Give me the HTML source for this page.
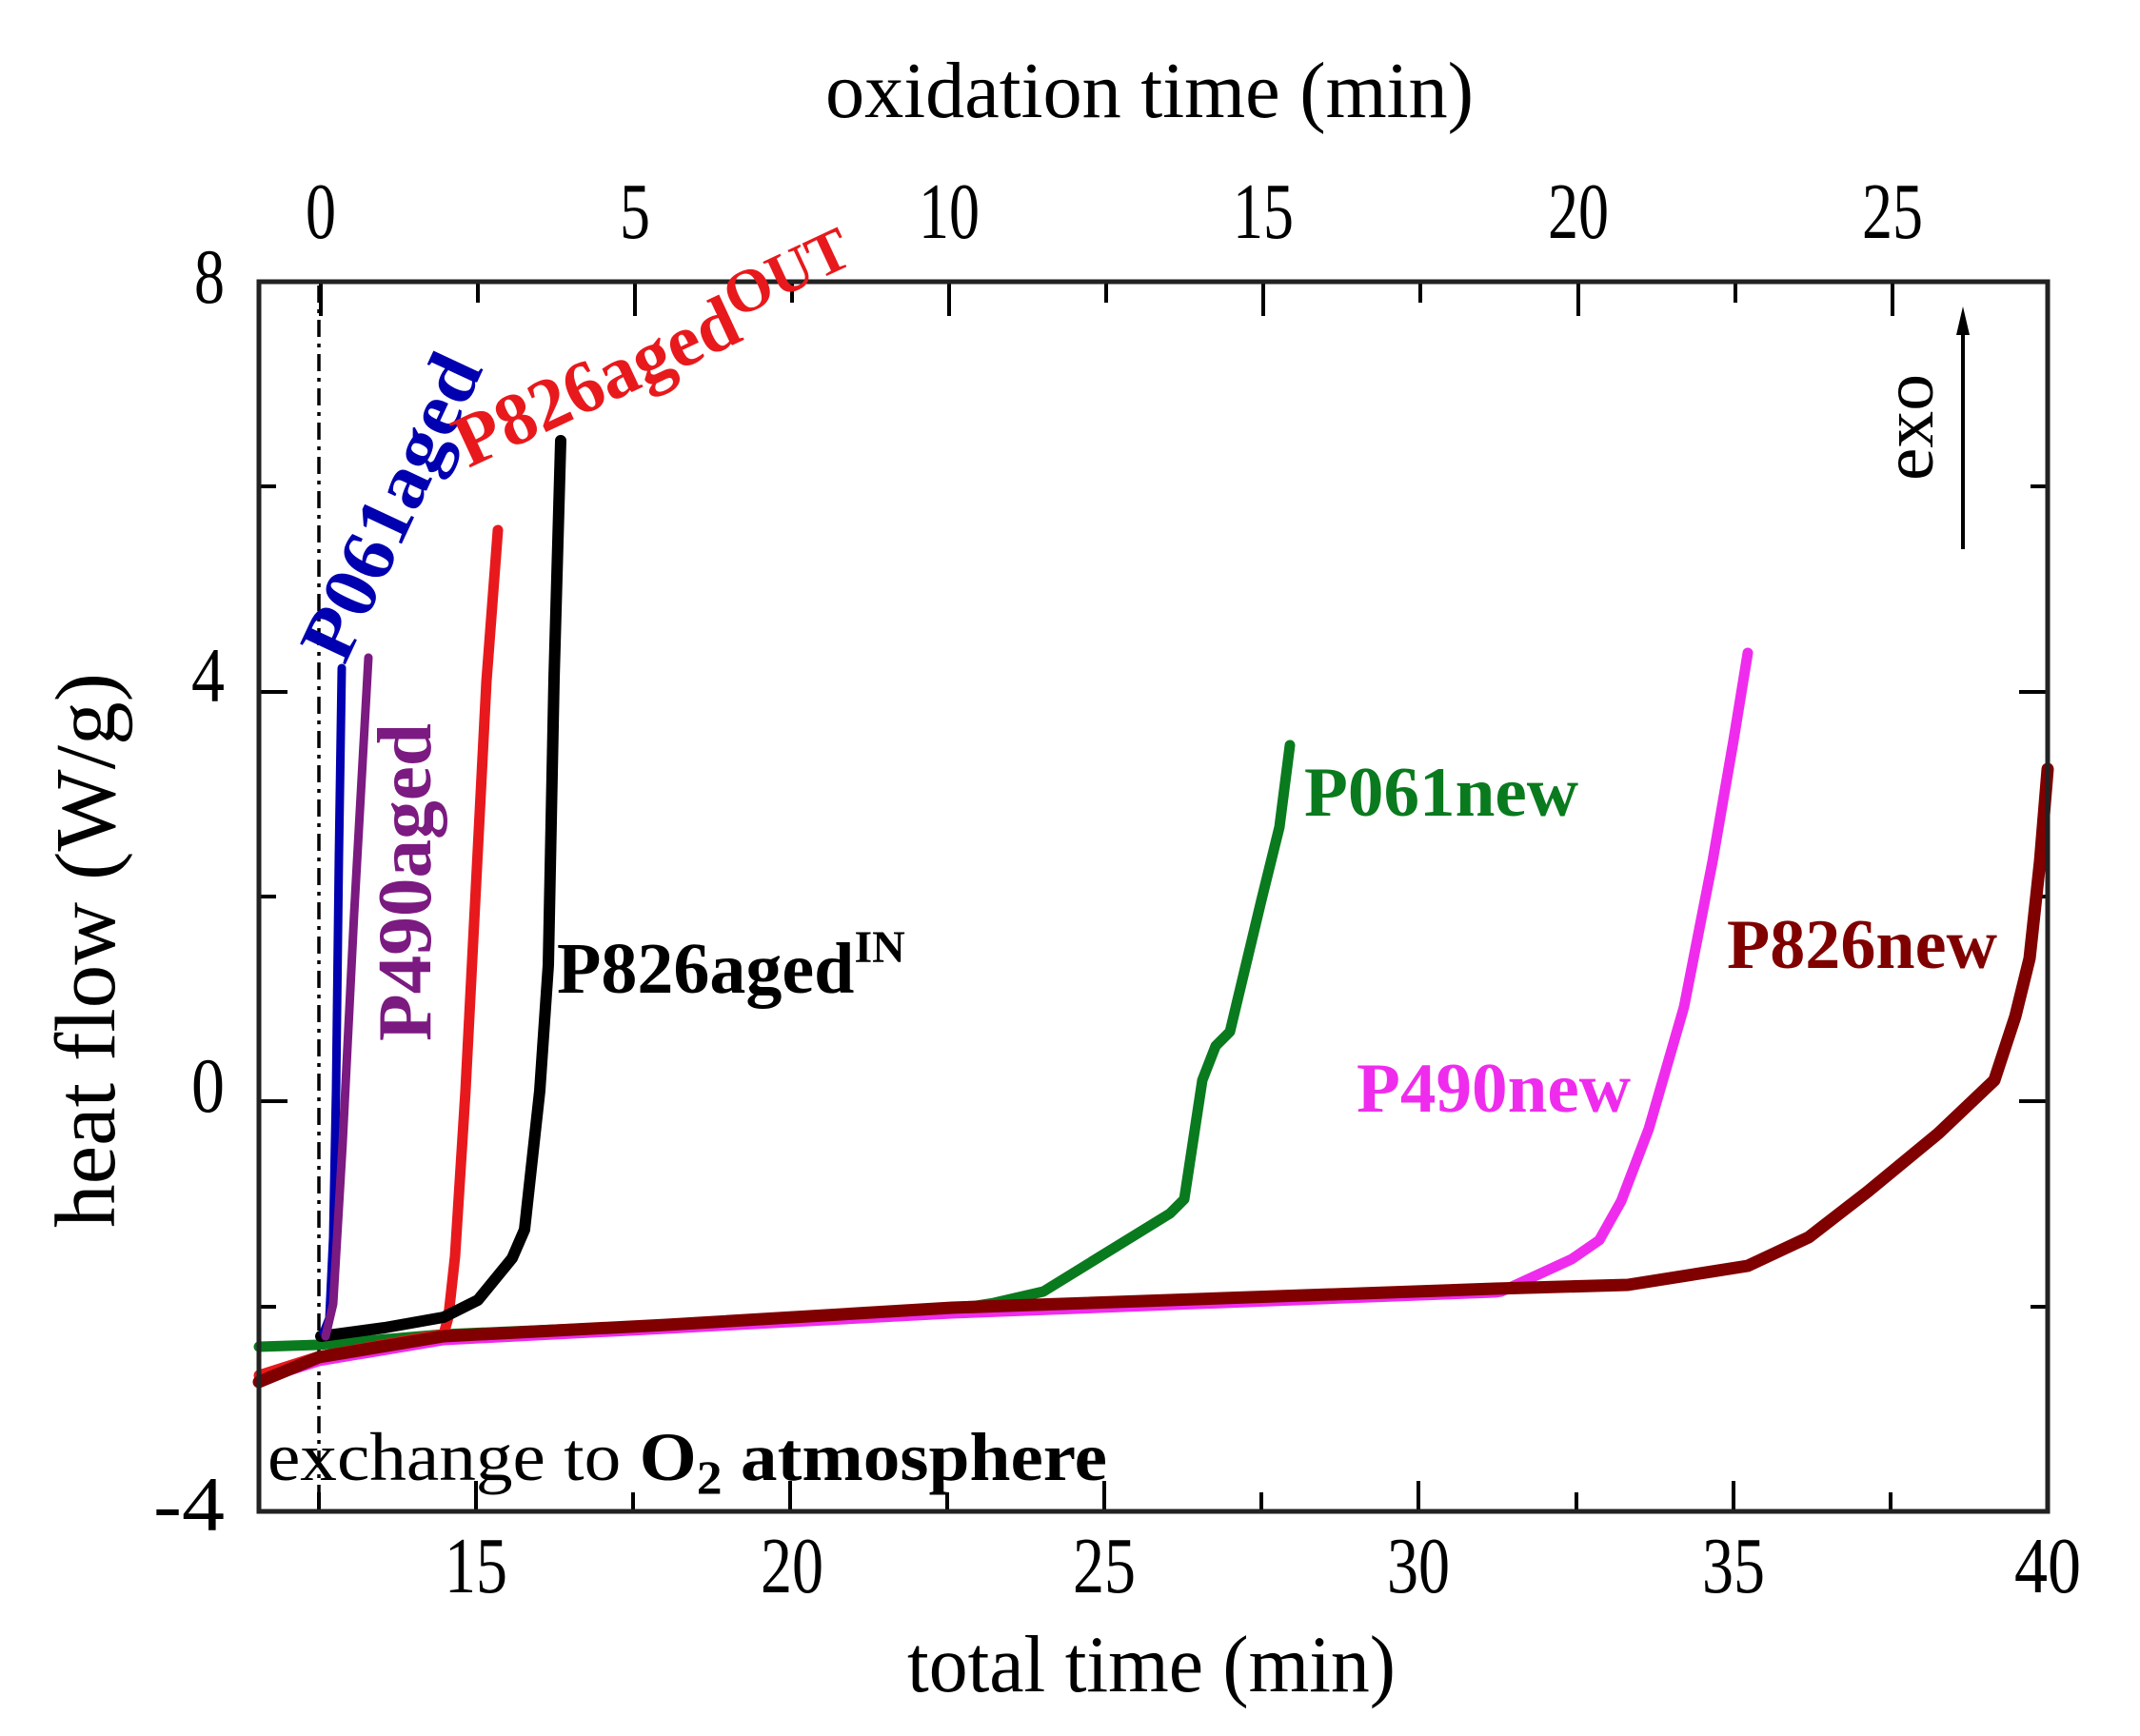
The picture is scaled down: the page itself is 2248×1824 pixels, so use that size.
<!DOCTYPE html>
<html><head><meta charset="utf-8"><style>
html,body{margin:0;padding:0;background:#fff;}
svg{display:block;}
text{font-family:"Liberation Serif",serif;}
</style></head><body>
<svg width="2248" height="1824" viewBox="0 0 2248 1824" xmlns="http://www.w3.org/2000/svg">
<rect width="2248" height="1824" fill="#fff"/>
<line x1="335" y1="300" x2="335" y2="1585" stroke="#000" stroke-width="3.5" stroke-dasharray="18,7,4,7"/>
<g stroke="#000" stroke-width="4">
<line x1="335" y1="1588" x2="335" y2="1568"/>
<line x1="500" y1="1588" x2="500" y2="1556"/>
<line x1="665" y1="1588" x2="665" y2="1568"/>
<line x1="830" y1="1588" x2="830" y2="1556"/>
<line x1="995" y1="1588" x2="995" y2="1568"/>
<line x1="1160" y1="1588" x2="1160" y2="1556"/>
<line x1="1325" y1="1588" x2="1325" y2="1568"/>
<line x1="1490" y1="1588" x2="1490" y2="1556"/>
<line x1="1656" y1="1588" x2="1656" y2="1568"/>
<line x1="1821" y1="1588" x2="1821" y2="1556"/>
<line x1="1986" y1="1588" x2="1986" y2="1568"/>
<line x1="337" y1="296" x2="337" y2="332"/>
<line x1="502" y1="296" x2="502" y2="318"/>
<line x1="667" y1="296" x2="667" y2="332"/>
<line x1="832" y1="296" x2="832" y2="318"/>
<line x1="997" y1="296" x2="997" y2="332"/>
<line x1="1162" y1="296" x2="1162" y2="318"/>
<line x1="1327" y1="296" x2="1327" y2="332"/>
<line x1="1492" y1="296" x2="1492" y2="318"/>
<line x1="1658" y1="296" x2="1658" y2="332"/>
<line x1="1823" y1="296" x2="1823" y2="318"/>
<line x1="1988" y1="296" x2="1988" y2="332"/>
<line x1="272" y1="511" x2="290" y2="511"/>
<line x1="272" y1="727" x2="302" y2="727"/>
<line x1="272" y1="942" x2="290" y2="942"/>
<line x1="272" y1="1157" x2="302" y2="1157"/>
<line x1="272" y1="1373" x2="290" y2="1373"/>
<line x1="2151" y1="511" x2="2133" y2="511"/>
<line x1="2151" y1="727" x2="2121" y2="727"/>
<line x1="2151" y1="942" x2="2133" y2="942"/>
<line x1="2151" y1="1157" x2="2121" y2="1157"/>
<line x1="2151" y1="1373" x2="2133" y2="1373"/>
</g>
<g fill="none" stroke-linecap="round" stroke-linejoin="round">
<path d="M272,1415 L334,1413 L466,1402 L700,1392 L1000,1376 L1044,1369 L1096,1357 L1229,1275 L1244,1260 L1263,1135 L1277,1099 L1292,1084 L1303,1038 L1325,946 L1344,869 L1355,783" stroke="#0a7a1e" stroke-width="11"/>
<path d="M272,1450 L335,1430 L466,1408 L700,1396 L1000,1380 L1570,1358 L1577,1357 L1651,1323 L1680,1303 L1703,1262 L1732,1186 L1769,1058 L1799,905 L1821,778 L1836,686" stroke="#ef2ced" stroke-width="11"/>
<path d="M272,1445 L335,1425 L440,1406 L466,1402 L471,1384 L478,1320 L489,1146 L500,931 L511,716 L523,557" stroke="#e8191c" stroke-width="11"/>
<path d="M337,1404 L404,1395 L466,1384 L502,1366 L538,1322 L551,1292 L567,1146 L576,1014 L582,713 L589,463" stroke="#000" stroke-width="12"/>
<path d="M272,1452 L335,1426 L466,1404 L700,1392 L1000,1374 L1570,1354 L1710,1350 L1836,1330 L1900,1300 L1962,1252 L2036,1191 L2095,1135 L2117,1068 L2132,1007 L2143,905 L2151,808" stroke="#800000" stroke-width="13"/>
<path d="M340,1400 L346,1385 L350,1300 L353,1146 L356,900 L359,702" stroke="#0000b0" stroke-width="9"/>
<path d="M342,1404 L350,1370 L360,1200 L372,960 L387,691" stroke="#7b1a80" stroke-width="9"/>
</g>
<rect x="272" y="296" width="1879" height="1292" fill="none" stroke="#222" stroke-width="5"/>
<line x1="2062" y1="577" x2="2062" y2="340" stroke="#000" stroke-width="4"/>
<polygon points="2062,322 2055,352 2069,352" fill="#000"/>
<text transform="translate(2030,505) rotate(-90)" font-size="76" textLength="112" lengthAdjust="spacingAndGlyphs">exo</text>
<g font-size="84" text-anchor="middle">
<text x="500" y="1673" textLength="66" lengthAdjust="spacingAndGlyphs">15</text>
<text x="832" y="1673" textLength="66" lengthAdjust="spacingAndGlyphs">20</text>
<text x="1160" y="1673" textLength="66" lengthAdjust="spacingAndGlyphs">25</text>
<text x="1490" y="1673" textLength="66" lengthAdjust="spacingAndGlyphs">30</text>
<text x="1821" y="1673" textLength="66" lengthAdjust="spacingAndGlyphs">35</text>
<text x="2151" y="1673" textLength="70" lengthAdjust="spacingAndGlyphs">40</text>
<text x="337" y="250" textLength="32" lengthAdjust="spacingAndGlyphs">0</text>
<text x="667" y="250" textLength="32" lengthAdjust="spacingAndGlyphs">5</text>
<text x="997" y="250" textLength="64" lengthAdjust="spacingAndGlyphs">10</text>
<text x="1327" y="250" textLength="64" lengthAdjust="spacingAndGlyphs">15</text>
<text x="1658" y="250" textLength="64" lengthAdjust="spacingAndGlyphs">20</text>
<text x="1988" y="250" textLength="64" lengthAdjust="spacingAndGlyphs">25</text>
</g>
<g font-size="82" text-anchor="end">
<text x="236" y="318" textLength="32" lengthAdjust="spacingAndGlyphs">8</text>
<text x="236" y="737" textLength="35" lengthAdjust="spacingAndGlyphs">4</text>
<text x="236" y="1168" textLength="35" lengthAdjust="spacingAndGlyphs">0</text>
<text x="236" y="1608" textLength="75" lengthAdjust="spacingAndGlyphs">-4</text>
</g>
<text x="867" y="123" font-size="84" textLength="681" lengthAdjust="spacingAndGlyphs">oxidation time (min)</text>
<text x="953" y="1777" font-size="85" textLength="513" lengthAdjust="spacingAndGlyphs">total time (min)</text>
<text transform="translate(120,1290) rotate(-90)" font-size="90" textLength="583" lengthAdjust="spacingAndGlyphs">heat flow (W/g)</text>
<text x="281" y="1555" font-size="72" textLength="882" lengthAdjust="spacingAndGlyphs">exchange to <tspan font-weight="bold">O</tspan><tspan font-weight="bold" font-size="50" dy="14">2</tspan><tspan font-weight="bold" dy="-14"> atmosphere</tspan></text>
<g font-weight="bold">
<text transform="translate(362,700) rotate(-65)" font-size="80" fill="#0000b0" textLength="345" lengthAdjust="spacingAndGlyphs">P061aged</text>
<text transform="translate(452,1094) rotate(-90)" font-size="80" fill="#7b1a80" textLength="334" lengthAdjust="spacingAndGlyphs">P490aged</text>
<text transform="translate(492,492) rotate(-25)" font-size="78" fill="#e8191c">P826aged<tspan font-size="64" dy="-24">OUT</tspan></text>
<text x="585" y="1043" font-size="76">P826aged<tspan font-size="48" dy="-32">IN</tspan></text>
<text x="1370" y="857" font-size="74" fill="#0a7a1e" textLength="288" lengthAdjust="spacingAndGlyphs">P061new</text>
<text x="1425" y="1168" font-size="74" fill="#ef2ced" textLength="288" lengthAdjust="spacingAndGlyphs">P490new</text>
<text x="1814" y="1017" font-size="74" fill="#800000" textLength="284" lengthAdjust="spacingAndGlyphs">P826new</text>
</g>
</svg>
</body></html>
